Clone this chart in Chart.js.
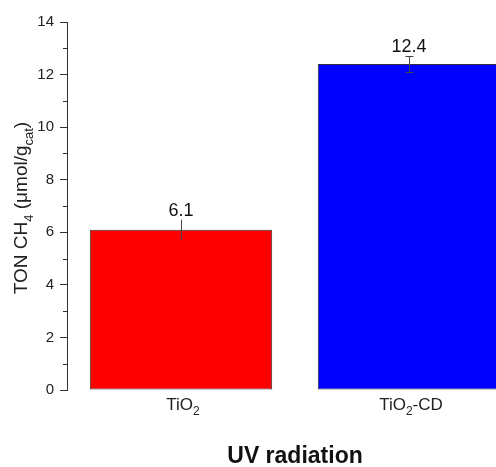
<!DOCTYPE html>
<html>
<head>
<meta charset="utf-8">
<script src="https://cdn.jsdelivr.net/npm/chart.js@4/dist/chart.umd.min.js"></script>
<style>
  html, body { margin: 0; padding: 0; background: #fff; overflow: hidden; }
  #wrap { width: 540px; height: 467px; }
</style>
</head>
<body>
<div id="wrap"><canvas id="chart" width="540" height="467"></canvas></div>
<script>
// data
const categories = ["TiO2", "TiO2-CD"];
const tonValues = [6.1, 12.4];
const tonErrors = [0.38, 0.3];
const yTicks = [0, 2, 4, 6, 8, 10, 12, 14];
const barColors = ["#ff0000", "#0000ff"];

const FONT = "Arial, 'Liberation Sans', sans-serif";

// split labels into normal / subscript pieces
function richParts(label) {
  if (label === "TiO2") return [["TiO"], ["2", 1]];
  if (label === "TiO2-CD") return [["TiO"], ["2", 1], ["-CD"]];
  return [[label]];
}

function drawRich(ctx, parts, x, y, size, align) {
  const sub = Math.round(size * 0.7);
  let total = 0;
  parts.forEach(p => {
    ctx.font = (p[1] ? sub : size) + "px " + FONT;
    total += ctx.measureText(p[0]).width;
  });
  let cx = align === "center" ? x - total / 2 : x;
  ctx.textAlign = "left";
  ctx.textBaseline = "alphabetic";
  parts.forEach(p => {
    ctx.font = (p[1] ? sub : size) + "px " + FONT;
    ctx.fillText(p[0], cx, y + (p[1] ? size * 0.3 : 0));
    cx += ctx.measureText(p[0]).width;
  });
}

const extras = {
  id: "extras",
  afterDatasetsDraw(chart) {
    const ctx = chart.ctx;
    const x = chart.scales.x, y = chart.scales.y;
    const meta = chart.getDatasetMeta(0);
    ctx.save();

    // minor ticks on y
    ctx.strokeStyle = "#333";
    ctx.lineWidth = 1;
    for (let v = 1; v < 14; v += 2) {
      const py = Math.round(y.getPixelForValue(v)) + 0.5;
      ctx.beginPath();
      ctx.moveTo(x.left - 4, py);
      ctx.lineTo(x.left, py);
      ctx.stroke();
    }

    // error bars + value labels
    meta.data.forEach((bar, i) => {
      const cx = Math.round(bar.x) + 0.5;
      const top = y.getPixelForValue(tonValues[i] + tonErrors[i]);
      const bot = y.getPixelForValue(tonValues[i] - tonErrors[i]);
      ctx.strokeStyle = "#444";
      ctx.beginPath();
      ctx.moveTo(cx, top);
      ctx.lineTo(cx, bot);
      if (i === 1) {
        ctx.moveTo(cx - 4, Math.round(top) + 0.5);
        ctx.lineTo(cx + 4, Math.round(top) + 0.5);
        ctx.moveTo(cx - 4, Math.round(bot) + 0.5);
        ctx.lineTo(cx + 4, Math.round(bot) + 0.5);
      }
      ctx.stroke();

      ctx.fillStyle = "#111";
      ctx.font = "18px " + FONT;
      ctx.textAlign = "center";
      ctx.textBaseline = "alphabetic";
      ctx.fillText(String(tonValues[i]), bar.x, top - 4);

      // category labels
      ctx.fillStyle = "#222";
      drawRich(ctx, richParts(categories[i]), bar.x + 2, 410, 17, "center");
    });

    // x title
    ctx.fillStyle = "#111";
    ctx.font = "bold 23px " + FONT;
    ctx.textAlign = "center";
    ctx.fillText("UV radiation", (x.left + x.right) / 2, 463);

    // y title, rotated
    ctx.translate(27, 208);
    ctx.rotate(-Math.PI / 2);
    ctx.fillStyle = "#222";
    const parts = [["TON CH"], ["4", 1], [" (\u03bcmol/g"], ["cat", 1], [")"]];
    drawRich(ctx, parts, 0, 0, 19, "center");
    ctx.restore();
  }
};

new Chart(document.getElementById("chart"), {
  type: "bar",
  data: {
    labels: categories,
    datasets: [{
      data: tonValues,
      backgroundColor: barColors,
      borderColor: "#333",
      borderWidth: 1,
      borderSkipped: false,
      barPercentage: 0.8,
      categoryPercentage: 1.0
    }]
  },
  options: {
    responsive: false,
    animation: false,
    layout: { padding: { left: 10, right: 17, top: 22, bottom: 69 } },
    plugins: { legend: { display: false }, tooltip: { enabled: false } },
    scales: {
      x: {
        ticks: { display: false },
        grid: { display: false },
        border: { display: false }
      },
      y: {
        min: 0,
        max: 14,
        afterFit: s => { s.width = 57; },
        afterBuildTicks: s => { s.ticks = yTicks.map(v => ({ value: v })); },
        ticks: { color: "#222", font: { size: 15, family: FONT }, padding: 6 },
        grid: { drawOnChartArea: false, tickLength: 7, color: "#333" },
        border: { display: true, color: "#333", width: 1 }
      }
    }
  },
  plugins: [extras]
});
</script>
</body>
</html>
